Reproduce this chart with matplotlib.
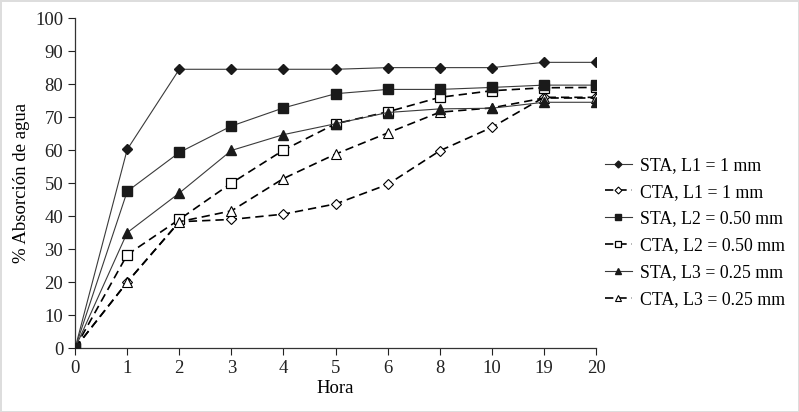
import matplotlib
matplotlib.use('Agg')
import matplotlib.pyplot as plt

plt.rcParams['font.family'] = ['Liberation Serif', 'DejaVu Serif']

# Horas (categorias equiespaciadas)
horas = ['0', '1', '2', '3', '4', '5', '6', '8', '10', '19', '20']

sta_l1 = [0, 60.2, 84.5, 84.5, 84.5, 84.5, 85.0, 85.0, 85.0, 86.6, 86.6]
cta_l1 = [0, 20.0, 38.3, 39.0, 40.6, 43.7, 49.6, 59.8, 66.9, 76.0, 76.0]
sta_l2 = [0, 47.5, 59.3, 67.3, 72.8, 77.1, 78.4, 78.4, 79.0, 79.7, 79.7]
cta_l2 = [0, 28.3, 39.0, 50.0, 60.0, 68.0, 71.6, 76.0, 78.0, 78.9, 79.0]
sta_l3 = [0, 35.0, 47.0, 59.9, 64.7, 68.0, 71.4, 72.5, 72.7, 74.5, 74.5]
cta_l3 = [0, 20.0, 38.3, 41.6, 51.4, 58.8, 65.2, 71.5, 72.8, 75.8, 75.8]

x = list(range(len(horas)))

fig = plt.figure(figsize=(7.99, 4.12), dpi=100)
ax = fig.add_axes([0.094, 0.155, 0.652, 0.801])

solid = dict(color='#3a3a3a', linewidth=0.8, linestyle='-')
dashed = dict(color='black', linewidth=1.2, linestyle=(0, (5, 3)))

ax.plot(x, sta_l1, marker='D', markersize=5, markerfacecolor='#1a1a1a',
        markeredgecolor='#1a1a1a', label='STA, L1 = 1 mm', zorder=3, **solid)
ax.plot(x, cta_l1, marker='D', markersize=5, markerfacecolor='white',
        markeredgecolor='black', markeredgewidth=0.8, label='CTA, L1 = 1 mm', zorder=2, **dashed)
ax.plot(x, sta_l2, marker='s', markersize=7, markerfacecolor='#1a1a1a',
        markeredgecolor='#1a1a1a', label='STA, L2 = 0.50 mm', zorder=4, **solid)
ax.plot(x, cta_l2, marker='s', markersize=7, markerfacecolor='white',
        markeredgecolor='black', markeredgewidth=0.9, label='CTA, L2 = 0.50 mm', zorder=2, **dashed)
ax.plot(x, sta_l3, marker='^', markersize=7, markerfacecolor='#1a1a1a',
        markeredgecolor='#1a1a1a', label='STA, L3 = 0.25 mm', zorder=3, **solid)
ax.plot(x, cta_l3, marker='^', markersize=7, markerfacecolor='white',
        markeredgecolor='black', markeredgewidth=0.8, label='CTA, L3 = 0.25 mm', zorder=2, **dashed)

ax.set_xlim(0, len(horas) - 1)
ax.set_ylim(0, 100)
ax.set_xticks(x)
ax.set_xticklabels(horas)
ax.set_yticks(range(0, 101, 10))
ax.tick_params(direction='out', length=5, width=0.8, labelsize=13.5, colors='#222222')
for s in ['top', 'right']:
    ax.spines[s].set_visible(False)
for s in ['left', 'bottom']:
    ax.spines[s].set_color('#333333')
    ax.spines[s].set_linewidth(0.9)

ax.set_xlabel('Hora', fontsize=13.5, labelpad=2)
ax.set_ylabel('% Absorción de agua', fontsize=13.5, labelpad=4)

leg = fig.legend(loc='center left', bbox_to_anchor=(0.757, 0.436), frameon=False,
                 fontsize=12.8, handlelength=1.5, handletextpad=0.45,
                 borderaxespad=0, borderpad=0,
                 labelspacing=0.55, markerscale=0.7)
ax.patch.set_visible(False)

fig.patch.set_edgecolor('#dddddd')
fig.patch.set_linewidth(1)

fig.savefig('out.png', dpi=100)
